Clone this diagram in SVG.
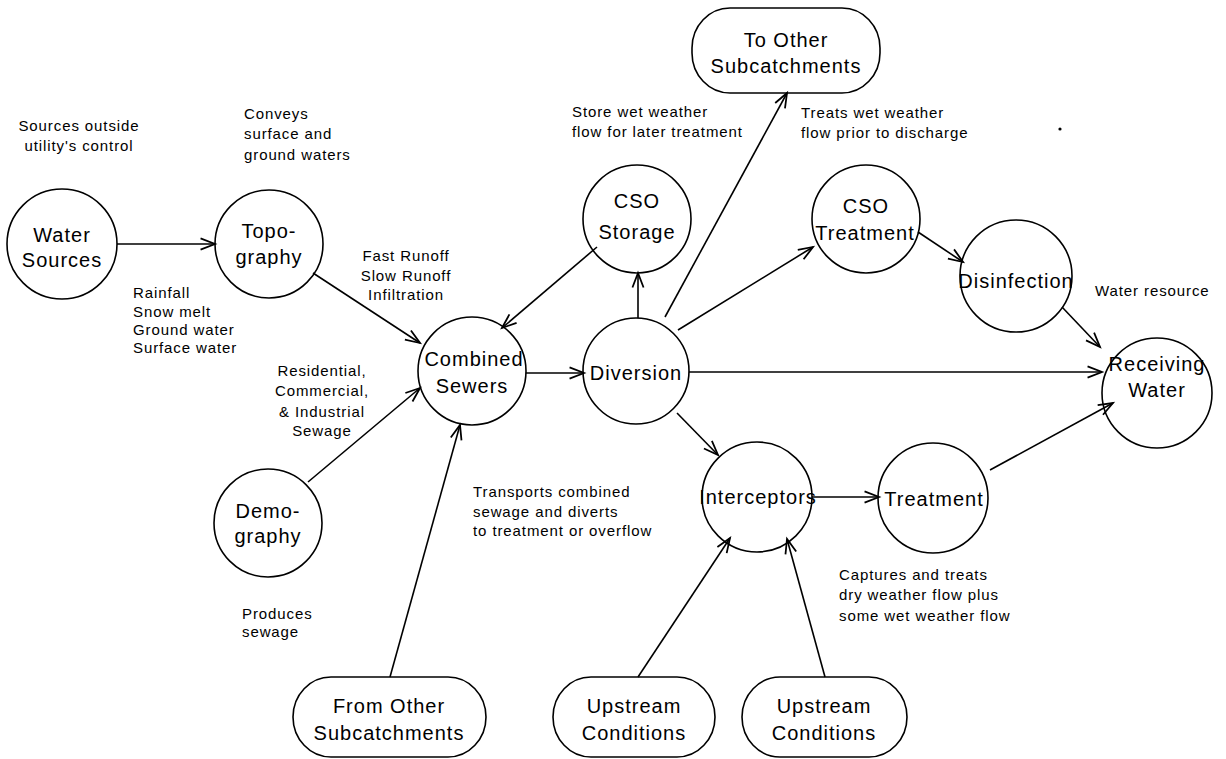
<svg xmlns="http://www.w3.org/2000/svg" width="1226" height="759" viewBox="0 0 1226 759">
  <style>
    .node { fill: none; stroke: #000; stroke-width: 1.6; }
    .lbl { font-family: "Liberation Sans", Arial, sans-serif; font-size: 20px; letter-spacing: 1px; text-anchor: middle; fill: #000; }
    .note { font-family: "Liberation Sans", Arial, sans-serif; font-size: 15px; letter-spacing: 0.9px; fill: #000; }
    .mid { text-anchor: middle; }
    .edge { fill: none; stroke: #000; stroke-width: 1.6; marker-end: url(#arrow); }
  </style>
  <defs>
    <marker id="arrow" markerUnits="userSpaceOnUse" markerWidth="20" markerHeight="20" viewBox="-15 -8 18 16" refX="0" refY="0" orient="auto" overflow="visible">
      <path d="M-13,-5 L0,0 L-13,5" fill="none" stroke="#000" stroke-width="1.6"/>
    </marker>
  </defs>
  <rect width="1226" height="759" fill="#fff"/>

  <!-- connectors -->
  <g id="connectors">
    <line class="edge" x1="117" y1="244" x2="215" y2="244"/>
    <line class="edge" x1="313" y1="273" x2="420" y2="343"/>
    <line class="edge" x1="308" y1="482" x2="420" y2="388"/>
    <line class="edge" x1="390" y1="677" x2="460" y2="425"/>
    <line class="edge" x1="597" y1="247" x2="502" y2="328"/>
    <line class="edge" x1="526" y1="373" x2="584" y2="373"/>
    <line class="edge" x1="638" y1="318" x2="638" y2="273"/>
    <line class="edge" x1="665" y1="317" x2="787" y2="93"/>
    <line class="edge" x1="678" y1="330" x2="813" y2="247"/>
    <line class="edge" x1="689" y1="372" x2="1102" y2="372"/>
    <line class="edge" x1="677" y1="413" x2="718" y2="455"/>
    <line class="edge" x1="918" y1="232" x2="963" y2="262"/>
    <line class="edge" x1="1062" y1="307" x2="1100" y2="347"/>
    <line class="edge" x1="990" y1="470" x2="1113" y2="403"/>
    <line class="edge" x1="812" y1="497" x2="879" y2="497"/>
    <line class="edge" x1="638" y1="677" x2="730" y2="538"/>
    <line class="edge" x1="825" y1="677" x2="787" y2="539"/>
  </g>

  <!-- nodes -->
  <g id="water-sources">
    <circle class="node" cx="62" cy="244" r="55"/>
    <text class="lbl" x="62" y="242">Water</text>
    <text class="lbl" x="62" y="267">Sources</text>
  </g>
  <g id="topography">
    <circle class="node" cx="269" cy="244" r="54"/>
    <text class="lbl" x="269" y="238">Topo-</text>
    <text class="lbl" x="269" y="264">graphy</text>
  </g>
  <g id="combined-sewers">
    <circle class="node" cx="472" cy="371" r="54"/>
    <text class="lbl" x="474" y="366">Combined</text>
    <text class="lbl" x="472" y="393">Sewers</text>
  </g>
  <g id="diversion">
    <circle class="node" cx="636" cy="371" r="53"/>
    <text class="lbl" x="636" y="380">Diversion</text>
  </g>
  <g id="cso-storage">
    <circle class="node" cx="637" cy="219" r="54"/>
    <text class="lbl" x="637" y="208">CSO</text>
    <text class="lbl" x="637" y="239">Storage</text>
  </g>
  <g id="to-other-subcatchments">
    <rect class="node" x="692" y="8" width="188" height="85" rx="38" ry="40"/>
    <text class="lbl" x="786" y="47">To Other</text>
    <text class="lbl" x="786" y="73">Subcatchments</text>
  </g>
  <g id="cso-treatment">
    <circle class="node" cx="866" cy="219" r="54"/>
    <text class="lbl" x="866" y="213">CSO</text>
    <text class="lbl" x="865" y="240">Treatment</text>
  </g>
  <g id="disinfection">
    <circle class="node" cx="1016" cy="276" r="56"/>
    <text class="lbl" x="1016" y="288">Disinfection</text>
  </g>
  <g id="receiving-water">
    <circle class="node" cx="1157" cy="393" r="55"/>
    <text class="lbl" x="1157" y="371">Receiving</text>
    <text class="lbl" x="1157" y="397">Water</text>
  </g>
  <g id="interceptors">
    <circle class="node" cx="757" cy="497" r="55"/>
    <text class="lbl" x="758" y="504">Interceptors</text>
  </g>
  <g id="treatment">
    <circle class="node" cx="933" cy="498" r="55"/>
    <text class="lbl" x="934" y="506">Treatment</text>
  </g>
  <g id="demography">
    <circle class="node" cx="268" cy="523" r="54"/>
    <text class="lbl" x="268" y="518">Demo-</text>
    <text class="lbl" x="268" y="543">graphy</text>
  </g>
  <g id="from-other-subcatchments">
    <rect class="node" x="293" y="677" width="193" height="80" rx="38" ry="40"/>
    <text class="lbl" x="389" y="713">From Other</text>
    <text class="lbl" x="389" y="740">Subcatchments</text>
  </g>
  <g id="upstream-conditions-1">
    <rect class="node" x="553" y="677" width="162" height="80" rx="38" ry="40"/>
    <text class="lbl" x="634" y="713">Upstream</text>
    <text class="lbl" x="634" y="740">Conditions</text>
  </g>
  <g id="upstream-conditions-2">
    <rect class="node" x="742" y="677" width="165" height="80" rx="38" ry="40"/>
    <text class="lbl" x="824" y="713">Upstream</text>
    <text class="lbl" x="824" y="740">Conditions</text>
  </g>

  <!-- annotations -->
  <g id="notes">
    <text class="note mid" x="79" y="131">Sources outside</text>
    <text class="note mid" x="79" y="151">utility's control</text>

    <text class="note" x="244" y="119">Conveys</text>
    <text class="note" x="244" y="139">surface and</text>
    <text class="note" x="244" y="160">ground waters</text>

    <text class="note" x="133" y="298">Rainfall</text>
    <text class="note" x="133" y="317">Snow melt</text>
    <text class="note" x="133" y="335">Ground water</text>
    <text class="note" x="133" y="353">Surface water</text>

    <text class="note mid" x="406" y="261">Fast Runoff</text>
    <text class="note mid" x="406" y="281">Slow Runoff</text>
    <text class="note mid" x="406" y="300">Infiltration</text>

    <text class="note mid" x="322" y="376">Residential,</text>
    <text class="note mid" x="322" y="396">Commercial,</text>
    <text class="note mid" x="322" y="417">&amp; Industrial</text>
    <text class="note mid" x="322" y="436">Sewage</text>

    <text class="note" x="242" y="619">Produces</text>
    <text class="note" x="242" y="637">sewage</text>

    <text class="note" x="473" y="497">Transports combined</text>
    <text class="note" x="473" y="517">sewage and diverts</text>
    <text class="note" x="473" y="536">to treatment or overflow</text>

    <text class="note" x="572" y="117">Store wet weather</text>
    <text class="note" x="572" y="137">flow for later treatment</text>

    <text class="note" x="801" y="118">Treats wet weather</text>
    <text class="note" x="801" y="138">flow prior to discharge</text>

    <text class="note" x="1095" y="296">Water resource</text>

    <text class="note" x="839" y="580">Captures and treats</text>
    <text class="note" x="839" y="600">dry weather flow plus</text>
    <text class="note" x="839" y="621">some wet weather flow</text>

    <circle cx="1060" cy="129" r="1.6" fill="#000"/>
  </g>
</svg>
